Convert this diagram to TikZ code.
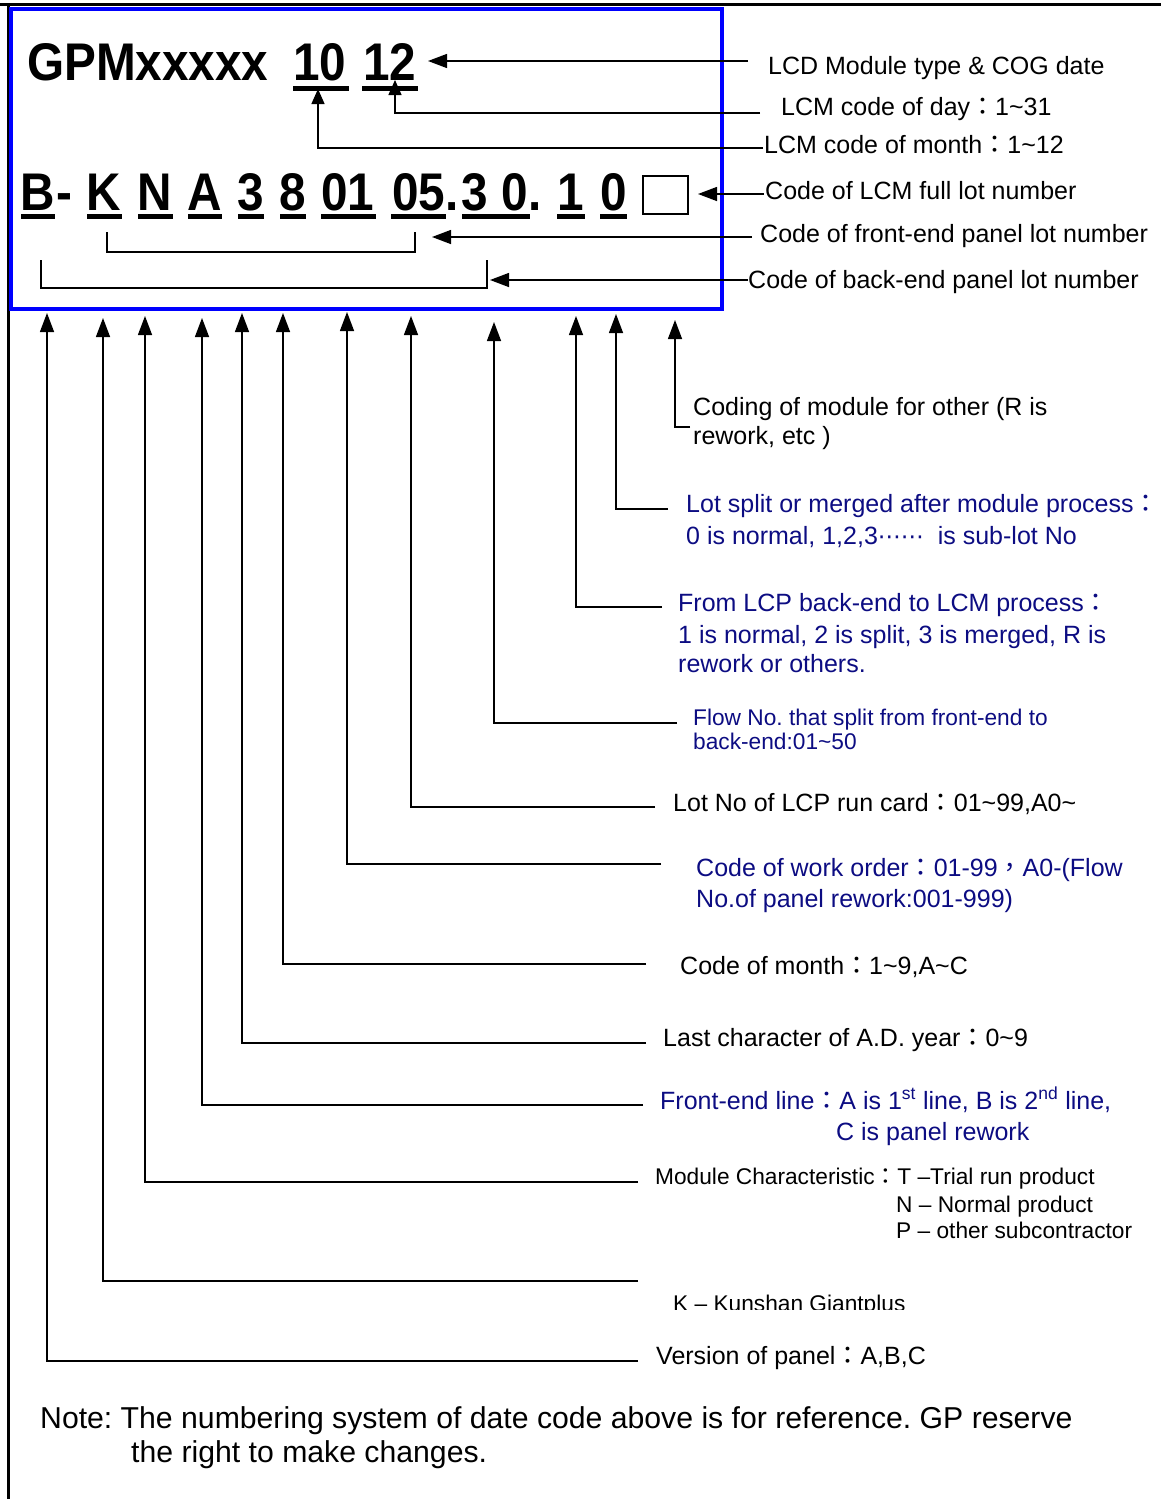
\documentclass[tikz,border=0pt]{standalone}
\usepackage{fontspec}
\usepackage{graphicx}
\setmainfont{Liberation Sans}
\newfontfamily\cjk{Noto Sans CJK TC}
\newfontfamily\dejavu{DejaVu Sans}
\newfontfamily\narrowfont[FakeStretch=0.9]{Liberation Sans}
\usetikzlibrary{arrows.meta}
\definecolor{navy}{RGB}{12,12,130}
\definecolor{boxblue}{RGB}{0,0,255}
\newcommand\fc{{\cjk ：}}
\newcommand\fcomma{{\cjk ，}}
\newcommand\tild{\textasciitilde}
\frenchspacing
\begin{document}
\begin{tikzpicture}[x=1pt,y=-1pt,
  lbl/.style={anchor=base west, inner sep=0pt, font=\fontsize{25}{30}\selectfont},
  lbls/.style={anchor=base west, inner sep=0pt, font=\fontsize{22.7}{27}\selectfont},
  nv/.style={text=navy},
  big/.style={anchor=base, inner sep=0pt, font=\fontsize{53}{60}\selectfont\narrowfont\bfseries},
  notestyle/.style={anchor=base west, inner sep=0pt, font=\fontsize{30.2}{36}\selectfont},
  ul/.style={line width=5pt},
  thin/.style={line width=1.4pt},
  conn/.style={line width=1.4pt, -{Triangle[width=14pt,length=19pt]}},
  conns/.style={line width=1.4pt, -{Triangle[width=13pt,length=15pt]}}]
\useasboundingbox (0,0) rectangle (1161,1499);
% frame
\draw[line width=3pt] (0,4) -- (1161,4);
\draw[line width=3pt] (8,4) -- (8,1499);
\draw[boxblue, line width=4pt] (11,9) rectangle (722,309);

% top row
\node[big, anchor=base west] (gpm) at (27,80) {GPMxxxxx};
\node[big] (m10) at (320,80) {10};
\node[big] (d12) at (390,80) {12};
\draw[ul] (293,88) -- (349,88);
\draw[ul] (362,88) -- (418,88);

% second row
\node[big] (cB) at (38,210) {B};
\node[big] (cdash) at (64,210) {-};
\node[big] (cK) at (104,210) {K};
\node[big] (cN) at (155,210) {N};
\node[big] (cA) at (205,210) {A};
\node[big] (c3) at (251,210) {3};
\node[big] (c8) at (293,210) {8};
\node[big] (c01) at (348,210) {01};
\node[big] (c05) at (419,210) {05};
\node[big] (cdot1) at (452,210) {.};
\node[big] (c3b) at (475,210) {3};
\node[big] (c0b) at (515,210) {0};
\node[big] (cdot2) at (535,210) {.};
\node[big] (c1) at (571,210) {1};
\node[big] (c0c) at (614,210) {0};
\draw[thin] (643,176) rectangle (688,214);
\foreach \a/\b in {21/55,87/122,138/173,188/222,238/264,280/306,321/376,391/446,462/530,557/585,600/627}
  \draw[ul] (\a,216) -- (\b,216);

% brackets
\draw[thin] (107,232) |- (415,252) -- (415,232);
\draw[thin] (41,260) |- (487,288) -- (487,260);

% top labels
\node[lbl] (l1) at (768,74) {LCD Module type \& COG date};
\node[lbl] (l2) at (781,115) {LCM code of day\fc 1\tild 31};
\node[lbl] (l3) at (764,153) {LCM code of month\fc 1\tild 12};
\node[lbl] (l4) at (765,199) {Code of LCM full lot number};
\node[lbl] (l5) at (760,242) {Code of front-end panel lot number};
\node[lbl] (l6) at (748,288) {Code of back-end panel lot number};

\coordinate (e1) at (748,61);  \coordinate (t1) at (428,61);
\coordinate (e2) at (760,113); \coordinate (t2) at (395,80);
\coordinate (e3) at (763,148); \coordinate (t3) at (318,89);
\coordinate (e4) at (764,194); \coordinate (t4) at (698,194);
\coordinate (e5) at (752,237); \coordinate (t5) at (432,237);
\coordinate (e6) at (748,280); \coordinate (t6) at (490,280);
\draw[conn] (e1) -- (t1);
\draw[conns] (e2) -| (t2);
\draw[conns] (e3) -| (t3);
\draw[conn] (e4) -- (t4);
\draw[conn] (e5) -- (t5);
\draw[conn] (e6) -- (t6);

% vertical connectors
\foreach \n/\x/\t/\y/\e in {a/47/313/1361/638, b/103/318/1281/638, c/145/316/1182/638,
  d/202/318/1105/643, e/242/313/1043/646, f/283/313/964/646, g/347/312/864/661,
  h/411/316/807/655, i/494/322/723/677, j/576/316/607/662, k/616/314/509/668, l/675/320/427/690}
{
  \coordinate (tip\n) at (\x,\t);
  \coordinate (end\n) at (\e,\y);
  \draw[conn] (end\n) -| (tip\n);
}

% lower labels
\node[lbl] (ll1) at (693,415) {Coding of module for other (R is};
\node[lbl] (ll1b) at (693,444) {rework, etc )};
\node[lbl,nv] (lk1) at (686,512) {Lot split or merged after module process\fc};
\node[lbl,nv] (lk2) at (686,544) {0 is normal, 1,2,3{\dejavu\fontsize{23}{27}\selectfont ⋯⋯}\ \ is sub-lot No};
\node[lbl,nv] (lj1) at (678,611) {From LCP back-end to LCM process\fc};
\node[lbl,nv] (lj2) at (678,643) {1 is normal, 2 is split, 3 is merged, R is};
\node[lbl,nv] (lj3) at (678,672) {rework or others.};
\node[lbls,nv] (li1) at (693,725) {Flow No. that split from front-end to};
\node[lbls,nv] (li2) at (693,749) {back-end:01\tild 50};
\node[lbl] (lh) at (673,811) {Lot No of LCP run card\fc 01\tild 99,A0\tild};
\node[lbl,nv] (lg1) at (696,876) {Code of work order\fc 01-99\fcomma A0-(Flow};
\node[lbl,nv] (lg2) at (696,907) {No.of panel rework:001-999)};
\node[lbl] (lf) at (680,974) {Code of month\fc 1\tild 9,A\tild C};
\node[lbl] (le) at (663,1046) {Last character of A.D. year\fc 0\tild 9};
\node[lbl,nv] (ld1) at (660,1109) {Front-end line\fc A is 1\textsuperscript{st} line, B is 2\textsuperscript{nd} line,};
\node[lbl,nv] (ld2) at (836,1140) {C is panel rework};
\node[lbls] (lc1) at (655,1184) {Module Characteristic\fc T –Trial run product};
\node[lbls] (lc2) at (896,1212) {N – Normal product};
\node[lbls] (lc3) at (896,1238) {P – other subcontractor};
\begin{scope}
  \clip (600,1270) rectangle (1000,1309);
  \node[lbls] (lb) at (673,1311) {K – Kunshan Giantplus};
\end{scope}
\node[lbl] (la) at (656,1364) {Version of panel\fc A,B,C};

% note
\node[notestyle] (note1) at (40,1428) {Note: The numbering system of date code above is for reference. GP reserve};
\node[notestyle] (note2) at (131,1462) {the right to make changes.};
\end{tikzpicture}
\end{document}
